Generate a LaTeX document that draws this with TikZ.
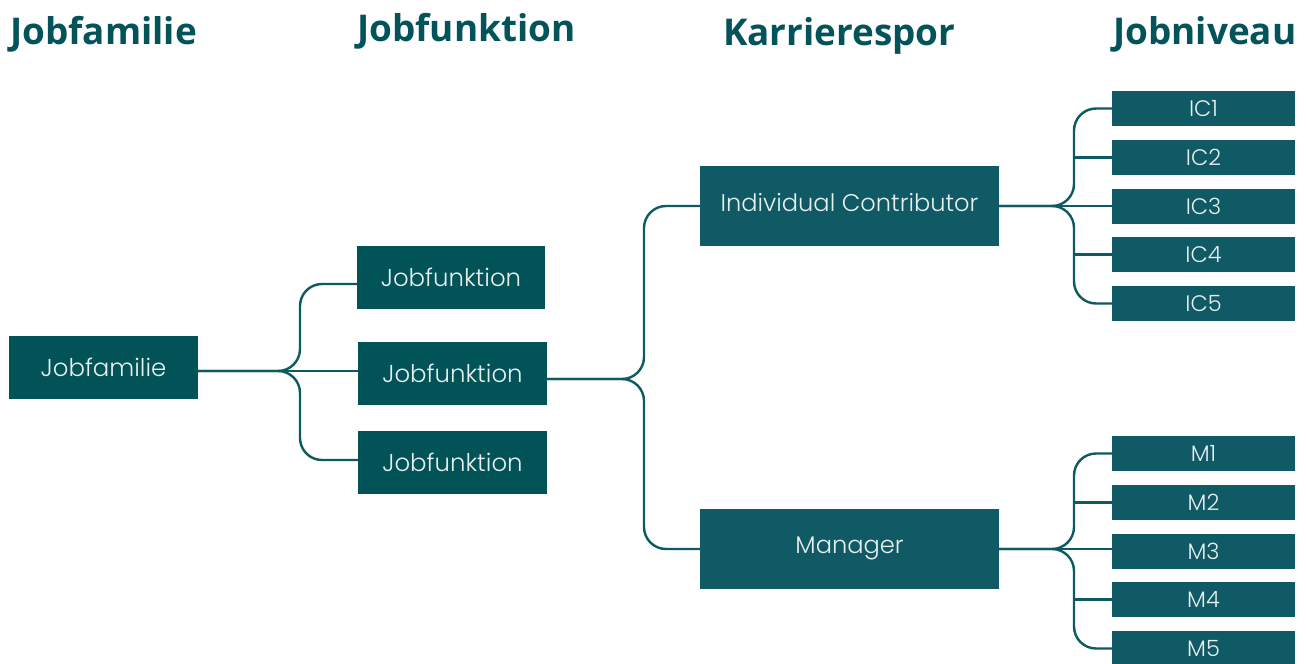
\documentclass[tikz,border=0pt]{standalone}
\usepackage{fontspec}
\setmainfont{Poppins}[UprightFont={* Light}]
\newfontfamily\headfont{Open Sans}[UprightFont={* Bold}]
\definecolor{famteal}{RGB}{2,83,88}
\definecolor{lvlteal}{RGB}{16,90,102}
\definecolor{linkteal}{RGB}{14,90,99}
\definecolor{headteal}{RGB}{3,84,90}
\definecolor{boxtext}{RGB}{232,240,240}
\tikzset{
  x=1bp, y=-1bp,
  head/.style={anchor=base west, inner sep=0pt, text=headteal, font=\headfont\fontsize{37}{37}\selectfont},
  famnode/.style={fill=famteal, text=boxtext, inner sep=0pt, font=\fontsize{24.5}{24.5}\selectfont},
  lvlnode/.style={fill=lvlteal, text=boxtext, inner sep=0pt, font=\fontsize{24.2}{24.2}\selectfont},
  lvlsmall/.style={lvlnode, minimum width=183bp, minimum height=35bp, font=\fontsize{22.5}{22.5}\selectfont},
  link/.style={draw=linkteal, line width=2.4bp, rounded corners=22bp},
}
\begin{document}
\begin{tikzpicture}
\useasboundingbox[fill=white] (0,0) rectangle (1306,663);

% column headings
\node[head] (h1) at (10,45) {Jobfamilie};
\node[head] (h2) at (357,42) {Jobfunktion};
\node[head] (h3) at (723,46) {Karrierespor};
\node[head] (h4) at (1113,45) {Jobniveau};

% job family and functions
\node[famnode, minimum width=189bp, minimum height=63bp] (fam) at (103.5,367) {Jobfamilie};
\node[famnode, minimum width=188bp, minimum height=63bp] (f1) at (451,277.5) {Jobfunktion};
\node[famnode, minimum width=189bp, minimum height=63bp] (f2) at (452.5,373.5) {Jobfunktion};
\node[famnode, minimum width=189bp, minimum height=63bp] (f3) at (452.5,462.5) {Jobfunktion};

% career tracks
\node[lvlnode, minimum width=299bp, minimum height=80bp, text depth=8bp] (ic) at (849.5,206) {Individual Contributor};
\node[lvlnode, minimum width=299bp, minimum height=80bp, text depth=8bp] (mg) at (849.5,549) {Manager};

% job levels
\node[lvlsmall] (ic1) at (1203.5,108.5) {IC1};
\node[lvlsmall] (ic2) at (1203.5,157.5) {IC2};
\node[lvlsmall] (ic3) at (1203.5,206.5) {IC3};
\node[lvlsmall] (ic4) at (1203.5,254.5) {IC4};
\node[lvlsmall] (ic5) at (1203.5,303.5) {IC5};
\node[lvlsmall] (m1) at (1203.5,453.5) {M1};
\node[lvlsmall] (m2) at (1203.5,502.5) {M2};
\node[lvlsmall] (m3) at (1203.5,551.5) {M3};
\node[lvlsmall] (m4) at (1203.5,599.5) {M4};
\node[lvlsmall] (m5) at (1203.5,648.5) {M5};

% brace spines
\coordinate (s1) at (300,0);
\coordinate (s2) at (644,0);
\coordinate (s3) at (1074,0);

% attachment points on the family and function boxes
\coordinate (famout) at ([yshift=-4bp]fam.east);
\coordinate (f1in) at ([yshift=-6.5bp]f1.west);
\coordinate (f3in) at ([yshift=2.5bp]f3.west);
\coordinate (f2out) at ([yshift=-5.5bp]f2.east);

% family -> functions
\draw[link] (famout) -- (s1 |- famout) |- (f1in);
\draw[link] (famout) -- (s1 |- famout) |- (f3in);
\draw[link] (famout) -- (f2.west |- famout);

% function -> career tracks
\draw[link] (f2out) -- (s2 |- f2out) |- (ic.west);
\draw[link] (f2out) -- (s2 |- f2out) |- (mg.west);

% individual contributor -> levels
\draw[link] (ic.east) -- (s3 |- ic.east) |- (ic1.west);
\draw[link] (ic.east) -- (s3 |- ic.east) |- (ic5.west);
\draw[link] (ic.east) -- (ic3.west |- ic.east);
\draw[link] (s3 |- ic2.west) -- (ic2.west);
\draw[link] (s3 |- ic4.west) -- (ic4.west);

% manager -> levels
\draw[link] (mg.east) -- (s3 |- mg.east) |- (m1.west);
\draw[link] (mg.east) -- (s3 |- mg.east) |- (m5.west);
\draw[link] (mg.east) -- (m3.west |- mg.east);
\draw[link] (s3 |- m2.west) -- (m2.west);
\draw[link] (s3 |- m4.west) -- (m4.west);
\end{tikzpicture}
\end{document}
